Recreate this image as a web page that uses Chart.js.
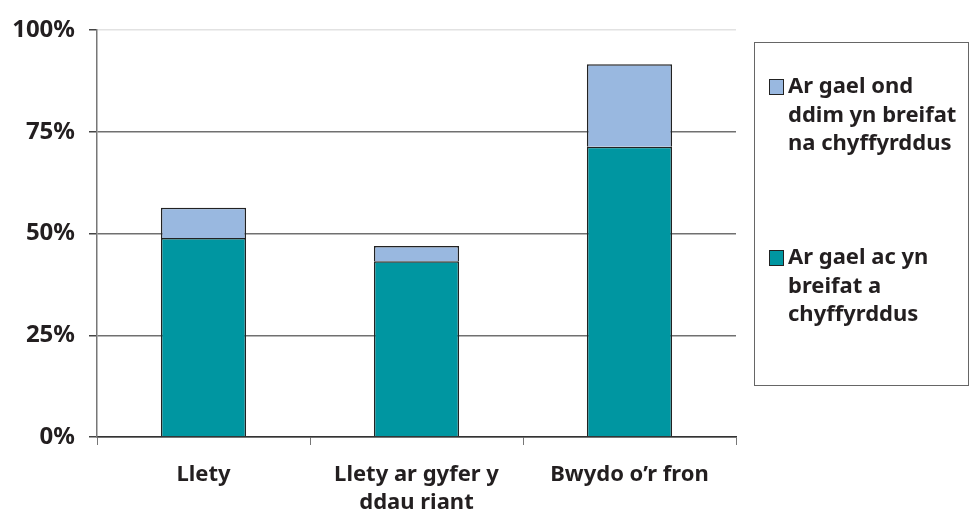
<!DOCTYPE html>
<html>
<head>
<meta charset="utf-8">
<script src="https://cdn.jsdelivr.net/npm/chart.js@4.4.0/dist/chart.umd.min.js"></script>
<style>
  html, body { margin: 0; padding: 0; background: #fff; }
  #wrap { width: 971px; height: 515px; position: relative; }
</style>
</head>
<body>
<div id="wrap"><canvas id="plot1"></canvas></div>
<script>
// categorias del eje x
const categorias = ['Llety', ['Llety ar gyfer y', 'ddau riant'], 'Bwydo o\u2019r fron'];

// series (porcentaje)
const breifat = [48.9, 43.2, 71.3];      // Ar gael ac yn breifat a chyffyrddus
const ddimBreifat = [7.4, 3.7, 20.3];    // Ar gael ond ddim yn breifat na chyffyrddus

const ticksY = [0, 25, 50, 75, 100];

const etiquetas = [
  ['Ar gael ac yn', 'breifat a', 'chyffyrddus'],
  ['Ar gael ond', 'ddim yn breifat', 'na chyffyrddus']
];

const fuente = 'Noto Sans';

// leyenda dibujada a mano (texto en varias lineas)
const leyendaCaja = {
  id: 'leyendaCaja',
  afterDraw(chart) {
    const ctx = chart.ctx;
    ctx.save();
    ctx.strokeStyle = '#666';
    ctx.lineWidth = 1;
    ctx.strokeRect(754.5, 42.5, 214, 343);

    ctx.font = 'bold 22px "' + fuente + '"';
    ctx.textBaseline = 'middle';
    // orden inverso: serie superior primero
    const orden = [1, 0];
    orden.forEach((i, k) => {
      const ds = chart.data.datasets[i];
      const y0 = 87 + k * 171;
      ctx.fillStyle = ds.backgroundColor;
      ctx.fillRect(769, y0 - 8, 14, 15);
      ctx.strokeStyle = '#222';
      ctx.strokeRect(769.5, y0 - 7.5, 14, 15);
      ctx.fillStyle = '#231f20';
      etiquetas[i].forEach((linea, j) => {
        ctx.fillText(linea, 788, y0 + j * 28.5);
      });
    });
    ctx.restore();
  }
};

let plotRef = document.getElementById('plot1');

let config = {
  type: 'bar',
  data: {
    labels: categorias,
    datasets: [
      {
        label: etiquetas[0].join(' '),
        data: breifat,
        backgroundColor: '#0096a1',
        borderColor: '#222',
        borderWidth: 1.5,
        barPercentage: 0.8,
        categoryPercentage: 0.5
      },
      {
        label: etiquetas[1].join(' '),
        data: ddimBreifat,
        backgroundColor: '#99b8e0',
        borderColor: '#222',
        borderWidth: 1.5,
        barPercentage: 0.8,
        categoryPercentage: 0.5
      }
    ]
  },
  options: {
    responsive: false,
    animation: false,
    layout: { padding: { top: 30, right: 235, left: 0, bottom: 0 } },
    plugins: {
      legend: { display: false },
      tooltip: { enabled: false }
    },
    scales: {
      x: {
        stacked: true,
        grid: {
          offset: true,
          drawOnChartArea: false,
          tickLength: 8,
          color: '#777'
        },
        border: { color: '#333', width: 1.5 },
        ticks: {
          color: '#231f20',
          padding: 15,
          font: { family: fuente, size: 22, weight: 'bold', lineHeight: 1.3 }
        },
        afterFit: (scale) => { scale.height = 78; }
      },
      y: {
        stacked: true,
        min: 0,
        max: 100,
        afterBuildTicks: (scale) => { scale.ticks = ticksY.map(v => ({ value: v })); },
        grid: {
          color: (c) => c.tick && c.tick.value === 100 ? '#e2e2e2' : '#707070',
          tickColor: '#444',
          tickLength: 8,
          lineWidth: 1.5
        },
        border: { color: '#777', width: 1.5 },
        ticks: {
          color: '#231f20',
          padding: 14,
          font: { family: fuente, size: 24, weight: 'bold' },
          callback: (v) => v + '%'
        },
        afterFit: (scale) => { scale.width = 97; }
      }
    }
  },
  plugins: [leyendaCaja]
};

plotRef.width = 971;
plotRef.height = 515;
let chart1 = new Chart(plotRef, config);
</script>
</body>
</html>
